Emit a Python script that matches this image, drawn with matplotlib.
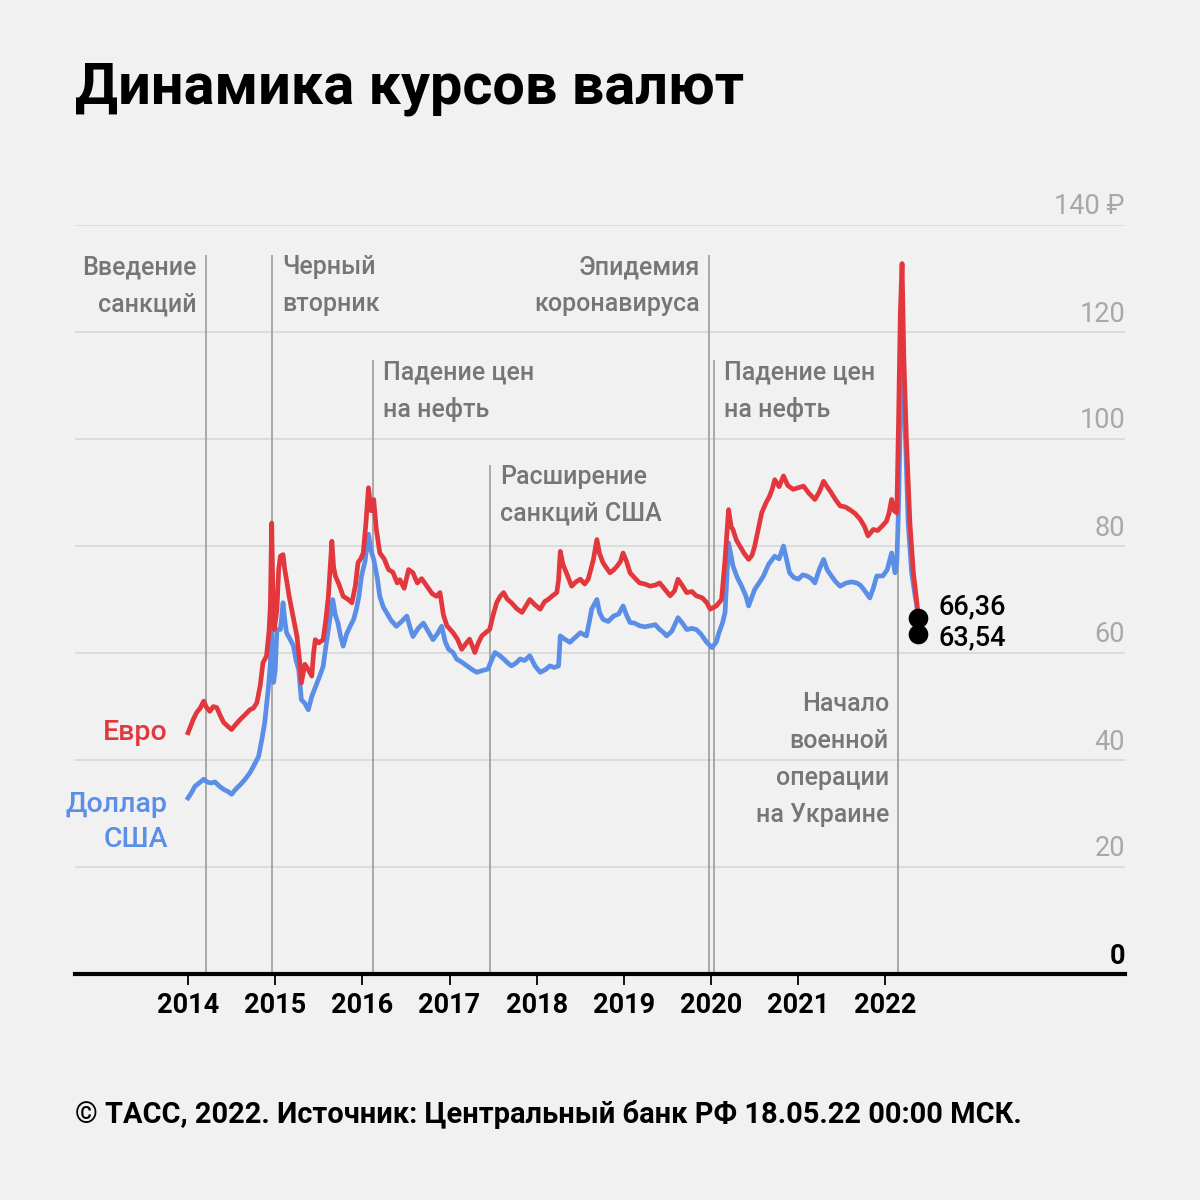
import matplotlib
matplotlib.use("Agg")
import matplotlib.pyplot as plt
from matplotlib.transforms import offset_copy

plt.rcParams['font.family'] = ['Roboto', 'DejaVu Sans']

# ---------------- data ----------------
eur_t = [2014.00, 2014.03, 2014.06, 2014.10, 2014.14, 2014.18, 2014.21, 2014.25, 2014.29, 2014.33,
         2014.37, 2014.41, 2014.45, 2014.50, 2014.55, 2014.60, 2014.65, 2014.71, 2014.75, 2014.79,
         2014.83, 2014.86, 2014.90, 2014.93, 2014.945, 2014.96, 2014.975, 2014.99, 2015.02, 2015.04,
         2015.06, 2015.09, 2015.11, 2015.13, 2015.16, 2015.19, 2015.22, 2015.25, 2015.28, 2015.30,
         2015.34, 2015.38, 2015.42, 2015.44, 2015.46, 2015.50, 2015.55, 2015.58, 2015.61, 2015.63,
         2015.65, 2015.67, 2015.69, 2015.73, 2015.78, 2015.83, 2015.88, 2015.92, 2015.95, 2015.98,
         2016.01, 2016.04, 2016.07, 2016.10, 2016.13, 2016.16, 2016.20, 2016.25, 2016.30, 2016.35,
         2016.40, 2016.43, 2016.48, 2016.53, 2016.58, 2016.63, 2016.68, 2016.74, 2016.80, 2016.85,
         2016.89, 2016.93, 2016.97, 2017.04, 2017.09, 2017.14, 2017.18, 2017.23, 2017.29, 2017.33,
         2017.37, 2017.42, 2017.46, 2017.50, 2017.54, 2017.58, 2017.62, 2017.66, 2017.71, 2017.77,
         2017.83, 2017.88, 2017.92, 2017.98, 2018.04, 2018.09, 2018.13, 2018.18, 2018.23, 2018.25,
         2018.27, 2018.30, 2018.34, 2018.40, 2018.45, 2018.50, 2018.55, 2018.59, 2018.62, 2018.65,
         2018.69, 2018.72, 2018.76, 2018.80, 2018.84, 2018.88, 2018.92, 2018.96, 2018.99, 2019.03,
         2019.07, 2019.12, 2019.18, 2019.24, 2019.30, 2019.36, 2019.41, 2019.47, 2019.53, 2019.58,
         2019.62, 2019.67, 2019.72, 2019.78, 2019.83, 2019.90, 2019.95, 2019.99, 2020.06, 2020.12,
         2020.16, 2020.20, 2020.23, 2020.25, 2020.29, 2020.33, 2020.38, 2020.43, 2020.47, 2020.50,
         2020.54, 2020.58, 2020.63, 2020.67, 2020.70, 2020.73, 2020.78, 2020.83, 2020.88, 2020.94,
         2021.00, 2021.06, 2021.12, 2021.19, 2021.24, 2021.29, 2021.33, 2021.38, 2021.43, 2021.48,
         2021.54, 2021.59, 2021.65, 2021.71, 2021.76, 2021.80, 2021.86, 2021.91, 2021.96, 2022.01,
         2022.04, 2022.07, 2022.10, 2022.13, 2022.15, 2022.17, 2022.19, 2022.21, 2022.24, 2022.28,
         2022.32, 2022.36, 2022.375]
eur_v = [45.0, 46.2, 47.5, 48.8, 49.6, 50.9, 49.8, 49.0, 49.9, 49.7,
         48.2, 46.9, 46.3, 45.6, 46.6, 47.5, 48.3, 49.3, 49.6, 50.6,
         54.0, 58.1, 59.3, 64.0, 69.0, 84.2, 70.0, 64.3, 68.0, 75.5,
         78.0, 78.3, 75.5, 73.6, 70.5, 68.0, 65.5, 63.0, 58.5, 54.3,
         57.8, 56.8, 55.6, 59.8, 62.4, 61.8, 62.4, 66.0, 70.5, 75.5,
         80.8, 76.0, 74.3, 72.8, 70.5, 70.0, 69.3, 72.5, 76.8, 77.5,
         78.6, 84.0, 90.8, 86.5, 88.6, 83.0, 78.6, 77.5, 75.5, 75.0,
         73.0, 73.6, 72.0, 75.5, 74.9, 73.0, 73.8, 72.4, 71.0, 70.5,
         71.2, 67.0, 65.0, 63.7, 62.5, 60.6, 61.5, 62.5, 60.0, 61.8,
         63.1, 63.8, 64.3, 67.0, 69.3, 70.5, 71.2, 70.0, 69.3, 68.2,
         67.5, 68.8, 69.9, 68.9, 68.1, 69.5, 69.9, 70.6, 71.2, 73.5,
         78.9, 76.5, 74.9, 72.4, 73.2, 73.7, 72.8, 73.7, 75.5, 77.4,
         81.1, 78.5, 76.8, 75.8, 74.9, 75.4, 76.1, 77.0, 78.6, 77.0,
         74.9, 74.0, 73.0, 72.8, 72.4, 72.6, 73.0, 71.8, 70.6, 71.5,
         73.7, 72.5, 71.2, 71.4, 70.6, 70.2, 69.3, 68.1, 68.7, 69.9,
         77.4, 86.7, 83.5, 83.0, 81.0, 79.9, 78.5, 77.4, 78.2, 79.9,
         83.0, 86.1, 88.0, 89.2, 90.5, 92.3, 91.0, 93.0, 91.2, 90.5,
         90.8, 91.1, 89.8, 88.6, 90.0, 92.0, 91.0, 89.8, 88.5, 87.4,
         87.2, 86.7, 86.0, 84.9, 83.5, 81.8, 83.0, 82.8, 83.6, 84.5,
         86.0, 88.6, 86.5, 86.1, 103.5, 123.4, 132.7, 115.3, 99.8, 84.2,
         74.9, 69.3, 66.36]

usd_t = [2014.00, 2014.04, 2014.08, 2014.12, 2014.18, 2014.22, 2014.26, 2014.31, 2014.36, 2014.41,
         2014.46, 2014.50, 2014.55, 2014.60, 2014.65, 2014.71, 2014.76, 2014.81, 2014.85, 2014.88,
         2014.92, 2014.945, 2014.955, 2014.965, 2014.98, 2015.00, 2015.02, 2015.06, 2015.09, 2015.11,
         2015.13, 2015.17, 2015.21, 2015.24, 2015.27, 2015.30, 2015.34, 2015.38, 2015.42, 2015.48,
         2015.52, 2015.55, 2015.58, 2015.61, 2015.66, 2015.69, 2015.72, 2015.75, 2015.78, 2015.82,
         2015.86, 2015.90, 2015.93, 2015.96, 2015.99, 2016.03, 2016.07, 2016.10, 2016.13, 2016.17,
         2016.20, 2016.24, 2016.28, 2016.33, 2016.39, 2016.45, 2016.51, 2016.55, 2016.58, 2016.64,
         2016.70, 2016.76, 2016.81, 2016.86, 2016.91, 2016.95, 2016.99, 2017.04, 2017.08, 2017.14,
         2017.20, 2017.26, 2017.31, 2017.37, 2017.44, 2017.48, 2017.52, 2017.57, 2017.62, 2017.67,
         2017.71, 2017.76, 2017.81, 2017.86, 2017.92, 2017.98, 2018.04, 2018.10, 2018.15, 2018.20,
         2018.25, 2018.27, 2018.32, 2018.38, 2018.44, 2018.50, 2018.57, 2018.60, 2018.63, 2018.69,
         2018.72, 2018.76, 2018.82, 2018.88, 2018.94, 2018.99, 2019.03, 2019.07, 2019.12, 2019.18,
         2019.24, 2019.30, 2019.36, 2019.41, 2019.45, 2019.49, 2019.55, 2019.62, 2019.67, 2019.72,
         2019.78, 2019.83, 2019.88, 2019.95, 2020.01, 2020.06, 2020.09, 2020.13, 2020.16, 2020.20,
         2020.23, 2020.25, 2020.30, 2020.35, 2020.40, 2020.43, 2020.47, 2020.50, 2020.55, 2020.60,
         2020.66, 2020.73, 2020.78, 2020.83, 2020.87, 2020.90, 2020.95, 2021.00, 2021.05, 2021.10,
         2021.15, 2021.19, 2021.24, 2021.29, 2021.33, 2021.38, 2021.43, 2021.48, 2021.55, 2021.61,
         2021.67, 2021.71, 2021.75, 2021.82, 2021.86, 2021.90, 2021.97, 2022.02, 2022.07, 2022.11,
         2022.13, 2022.15, 2022.17, 2022.19, 2022.21, 2022.23, 2022.26, 2022.30, 2022.34, 2022.36,
         2022.375]
usd_v = [32.8, 33.8, 35.0, 35.5, 36.3, 35.8, 35.6, 35.8, 35.0, 34.4,
         34.0, 33.5, 34.5, 35.3, 36.2, 37.5, 39.0, 40.6, 44.0, 46.9,
         53.1, 58.0, 64.9, 60.0, 54.4, 56.5, 64.3, 64.3, 69.3, 66.0,
         63.7, 62.5, 61.2, 58.5, 56.8, 51.2, 50.5, 49.3, 51.8, 54.3,
         56.0, 57.4, 61.0, 64.3, 69.9, 67.0, 65.5, 63.0, 61.2, 63.5,
         64.9, 66.2, 68.0, 70.5, 74.3, 77.0, 82.1, 79.0, 77.4, 74.0,
         70.5, 68.5, 67.4, 66.0, 64.9, 65.8, 66.8, 64.5, 63.0, 64.5,
         65.5, 63.8, 62.4, 63.5, 64.9, 62.0, 60.6, 60.0, 58.8, 58.2,
         57.5, 56.8, 56.3, 56.6, 56.9, 58.5, 60.0, 59.5, 58.8, 58.0,
         57.5, 58.0, 58.8, 58.5, 59.4, 57.5, 56.3, 56.8, 57.5, 57.2,
         57.5, 63.1, 62.5, 61.9, 62.8, 63.7, 63.1, 65.5, 68.1, 69.9,
         67.5, 66.2, 65.8, 66.8, 67.2, 68.7, 67.0, 65.6, 65.5, 65.0,
         64.8, 65.0, 65.2, 64.3, 63.8, 63.1, 64.0, 66.5, 65.5, 64.3,
         64.5, 64.3, 63.5, 61.9, 60.9, 62.0, 63.7, 65.5, 67.5, 80.5,
         78.0, 76.2, 74.0, 72.4, 70.5, 68.7, 70.5, 71.8, 73.0, 74.3,
         76.5, 78.0, 77.5, 79.9, 77.0, 74.9, 74.0, 73.7, 74.5, 74.3,
         73.8, 73.0, 75.5, 77.4, 75.5, 74.3, 73.2, 72.4, 73.0, 73.2,
         73.0, 72.6, 71.8, 70.2, 72.0, 74.3, 74.3, 75.5, 78.6, 74.9,
         77.0, 87.4, 104.0, 116.0, 108.0, 99.8, 84.2, 74.9, 70.5, 68.7,
         63.54]

years = [2014, 2015, 2016, 2017, 2018, 2019, 2020, 2021, 2022]
y_ticks = [0, 20, 40, 60, 80, 100, 120, 140]

event_dates = [2014.206, 2014.963, 2016.122, 2019.975, 2020.033, 2017.464, 2022.143]
event_texts = [["Введение", "санкций"],
               ["Черный", "вторник"],
               ["Падение цен", "на нефть"],
               ["Эпидемия", "коронавируса"],
               ["Падение цен", "на нефть"],
               ["Расширение", "санкций США"],
               ["Начало", "военной", "операции", "на Украине"]]
event_side = ["left", "right", "right", "left", "right", "right", "left"]
event_line_top = [134.3, 134.3, 114.7, 134.3, 114.7, 95.0, 88.0]
event_text_y = [130.7, 130.7, 111.0, 130.7, 111.0, 91.5, 49.1]

eur_label = "Евро"
usd_label = ["Доллар", "США"]
title = "Динамика курсов валют"
footer = "© ТАСС, 2022. Источник: Центральный банк РФ 18.05.22 00:00 МСК."

# ---------------- style ----------------
BG = "#f1f1f1"
RED = "#e2383d"
BLUE = "#5b8ee6"
ANN = "#767676"
TICKGRAY = "#a8a8a8"
GRID = "#d7d7d7"
VLINE = "#9c9c9c"

fig = plt.figure(figsize=(12, 12), dpi=100, facecolor=BG)
ax = fig.add_axes([75 / 1200, (1200 - 973.5) / 1200, 1050 / 1200, 749 / 1200])
ax.set_facecolor(BG)
ax.set_xlim(2012.704, 2024.747)
ax.set_ylim(0, 140)

for s in ["top", "left", "right"]:
    ax.spines[s].set_visible(False)
ax.spines["bottom"].set_linewidth(3.0)
ax.spines["bottom"].set_color("black")
ax.spines["bottom"].set_zorder(6)

for v in y_ticks[1:]:
    ax.axhline(v, color=GRID, lw=1.2, zorder=1)
ax.set_yticks([])

ax.set_xticks(years)
ax.set_xticklabels([str(y) for y in years], fontsize=19.5, fontweight="bold")
ax.tick_params(axis="x", length=8, width=1.3, color="black", pad=5)

lbl_tr = offset_copy(ax.get_yaxis_transform(), fig=fig, x=0, y=10, units="dots")
for v in y_ticks:
    if v == 0:
        ax.text(1.0, v, "0", transform=lbl_tr, ha="right", va="baseline",
                fontsize=19.5, fontweight="bold", color="black")
    elif v == y_ticks[-1]:
        ax.text(1.0, v, f"{v} ₽", transform=lbl_tr, ha="right", va="baseline",
                fontsize=19.5, color=TICKGRAY)
    else:
        ax.text(1.0, v, f"{v}", transform=lbl_tr, ha="right", va="baseline",
                fontsize=19.5, color=TICKGRAY)

line_step = 37 / 5.35
for d, lines, side, top, ty in zip(event_dates, event_texts, event_side, event_line_top, event_text_y):
    ax.vlines(d, 0, top, color=VLINE, lw=1.2, zorder=2)
    if side == "left":
        tr = offset_copy(ax.transData, fig=fig, x=-9, y=0, units="dots")
        ha = "right"
    else:
        tr = offset_copy(ax.transData, fig=fig, x=10, y=0, units="dots")
        ha = "left"
    for i, ln in enumerate(lines):
        ax.text(d, ty - i * line_step, ln, transform=tr, ha=ha, va="baseline",
                fontsize=18, color=ANN, fontweight="medium")

ax.plot(usd_t, usd_v, color=BLUE, lw=3.4, zorder=3, solid_joinstyle="round")
ax.plot(eur_t, eur_v, color=RED, lw=3.4, zorder=4, solid_joinstyle="round")

tr_e = offset_copy(ax.transData, fig=fig, x=-20, y=-7, units="dots")
ax.text(eur_t[0], eur_v[0], eur_label, transform=tr_e, ha="right", va="baseline",
        fontsize=20.5, color=RED, fontweight="medium")
for i, ln in enumerate(usd_label):
    tr_u = offset_copy(ax.transData, fig=fig, x=-20, y=-14 - 35 * i, units="dots")
    ax.text(usd_t[0], usd_v[0], ln, transform=tr_u, ha="right", va="baseline",
            fontsize=20.5, color=BLUE, fontweight="medium")

ax.scatter([eur_t[-1], usd_t[-1]], [eur_v[-1], usd_v[-1]], s=200, color="black", zorder=7,
           linewidths=0)
tr_ev = offset_copy(ax.transData, fig=fig, x=20, y=4, units="dots")
ax.text(eur_t[-1], eur_v[-1], f"{eur_v[-1]:.2f}".replace(".", ","), transform=tr_ev,
        ha="left", va="baseline", fontsize=19.5, color="black", fontweight="medium")
tr_uv = offset_copy(ax.transData, fig=fig, x=20, y=-12, units="dots")
ax.text(usd_t[-1], usd_v[-1], f"{usd_v[-1]:.2f}".replace(".", ","), transform=tr_uv,
        ha="left", va="baseline", fontsize=19.5, color="black", fontweight="medium")

fig.text(75 / 1200, 1 - 103 / 1200, title, fontsize=41.5, fontweight="bold", color="black",
         ha="left", va="baseline")
fig.text(75 / 1200, 1 - 1123 / 1200, footer, fontsize=20.9, fontweight="bold", color="black",
         ha="left", va="baseline")

fig.savefig("out.png", dpi=100, facecolor=BG)
